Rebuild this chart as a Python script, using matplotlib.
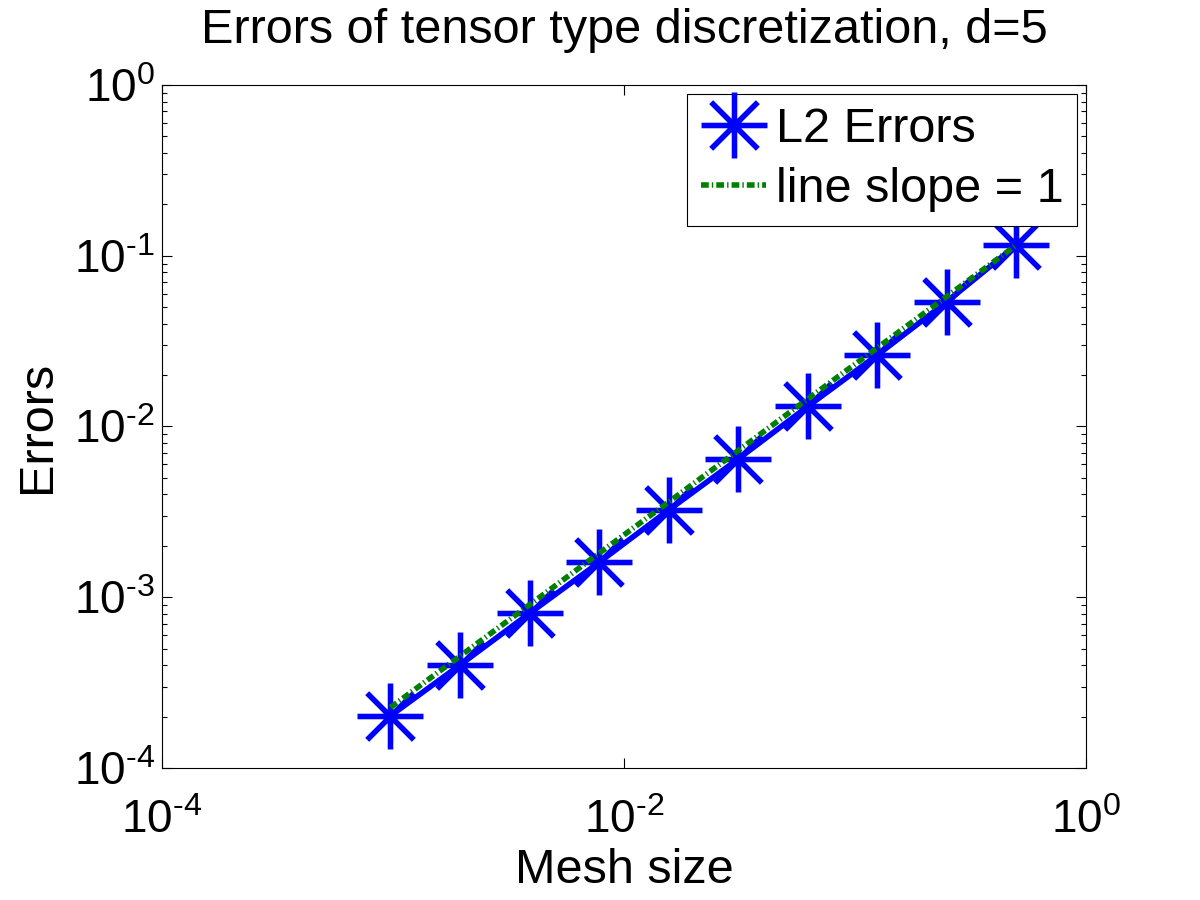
import matplotlib
matplotlib.use('Agg')
import matplotlib.pyplot as plt
from matplotlib.path import Path
from matplotlib.ticker import LogLocator, NullLocator, FuncFormatter
import numpy as np

# data
mesh_size = [9.765625e-4, 1.953125e-3, 3.90625e-3, 7.8125e-3, 1.5625e-2,
             3.125e-2, 6.25e-2, 0.125, 0.25, 0.5]
l2_errors = [2.02e-4, 4.01e-4, 8.05e-4, 1.60e-3, 3.24e-3,
             6.45e-3, 1.31e-2, 2.62e-2, 5.38e-2, 0.1156]
slope_one = [2.26e-4, 4.52e-4, 9.03e-4, 1.81e-3, 3.61e-3,
             7.23e-3, 1.45e-2, 2.89e-2, 5.78e-2, 0.1156]

plt.rcParams['font.family'] = ['Liberation Sans', 'DejaVu Sans']
plt.rcParams['mathtext.fontset'] = 'custom'
plt.rcParams['mathtext.rm'] = 'Liberation Sans'
plt.rcParams['mathtext.default'] = 'regular'


def pow10(v, pos):
    # matlab writes the exponent with a short hyphen
    e = int(round(np.log10(v)))
    if e < 0:
        return r'$10^{\text{-}%d}$' % (-e)
    return r'$10^{%d}$' % e


# matlab style asterisk: + and x on top of each other
d = 0.7071
star = Path([(-1, 0), (1, 0), (0, -1), (0, 1),
             (-d, -d), (d, d), (-d, d), (d, -d)],
            [Path.MOVETO, Path.LINETO] * 4)

fig = plt.figure(figsize=(12, 9), dpi=100)
ax = fig.add_axes([0.1348, 0.1467, 0.9050 - 0.1348, 0.9056 - 0.1467])

ax.loglog(mesh_size, l2_errors, color='blue', lw=4)
ax.loglog(mesh_size, l2_errors, ls='none', marker=star, ms=47.5,
          mec='blue', mfc='none', mew=4, label='L2 Errors')
ax.loglog(mesh_size, slope_one, color='green', lw=4,
          ls=(0, (1.4, 0.55, 0.25, 0.55)), label='line slope = 1')

ax.set_xlim(1e-4, 1e0)
ax.set_ylim(1e-4, 1e0)
ax.set_xticks([1e-4, 1e-2, 1e0])
ax.xaxis.set_minor_locator(NullLocator())
ax.yaxis.set_major_locator(LogLocator(base=10, numticks=10))
ax.yaxis.set_minor_locator(LogLocator(base=10, subs=range(2, 10), numticks=10))
ax.xaxis.set_major_formatter(FuncFormatter(pow10))
ax.yaxis.set_major_formatter(FuncFormatter(pow10))

ax.tick_params(which='both', direction='in', top=True, right=True,
               width=0.8, labelsize=33)
ax.tick_params(axis='x', pad=22)
ax.tick_params(axis='y', pad=5)
ax.tick_params(which='major', length=7)
ax.tick_params(which='minor', length=3.5)
for sp in ax.spines.values():
    sp.set_linewidth(0.8)

ax.set_title('Errors of tensor type discretization, d=5', fontsize=35, pad=30)
ax.set_xlabel('Mesh size', fontsize=35, labelpad=4)
ax.set_ylabel('Errors', fontsize=35, labelpad=10)

leg = ax.legend(loc='upper right', fontsize=35, fancybox=False, framealpha=1,
                edgecolor='black', borderaxespad=0.18, handlelength=1.34,
                handletextpad=0.2, labelspacing=0.3, borderpad=0.28)
leg.get_frame().set_linewidth(0.8)

fig.savefig('out.png', dpi=100)
